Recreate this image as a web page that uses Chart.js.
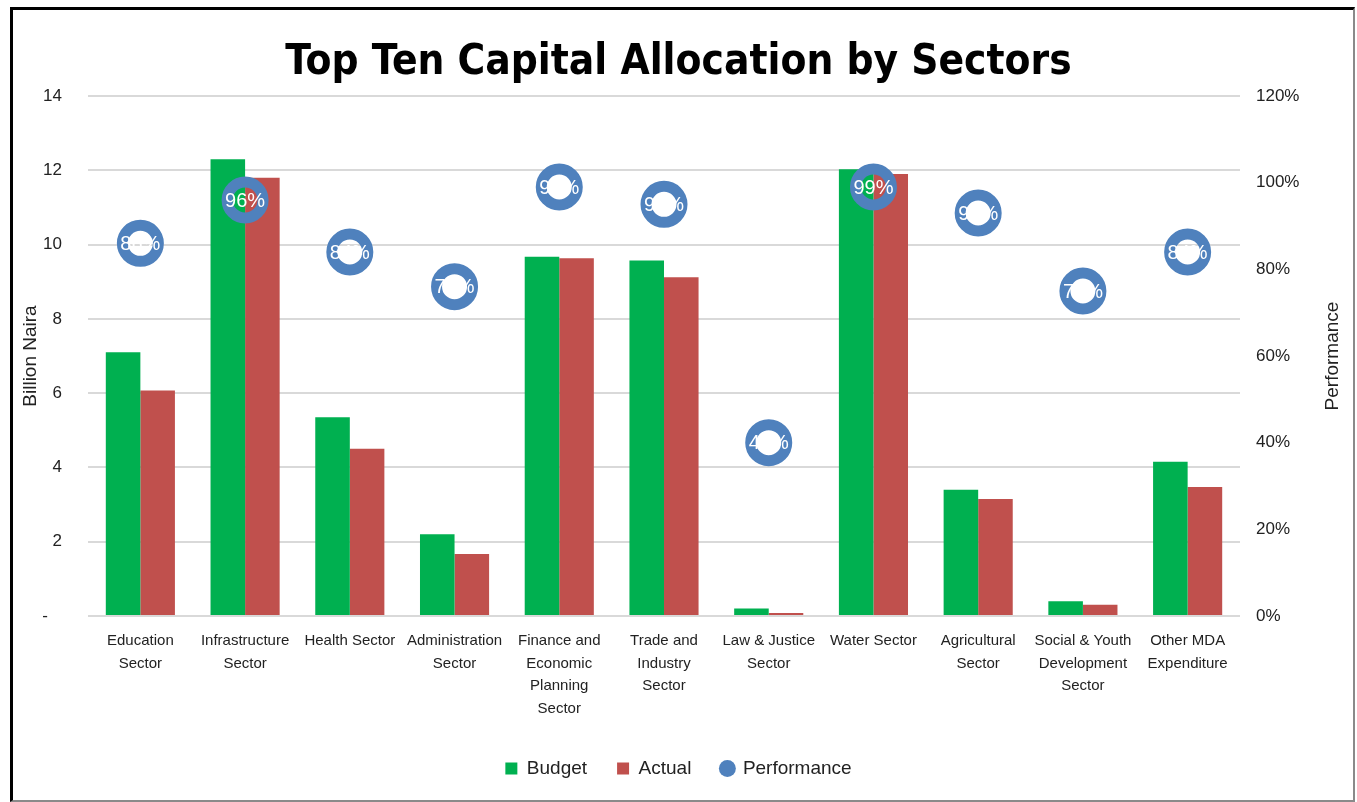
<!DOCTYPE html>
<html>
<head>
<meta charset="utf-8">
<script src="https://cdn.jsdelivr.net/npm/chart.js@4.4.0/dist/chart.umd.min.js"></script>
<style>
  html, body { margin: 0; padding: 0; background: #fff; }
  #wrap { position: relative; width: 1357px; height: 802px; }
  #frame {
    position: absolute; left: 10px; top: 7px; width: 1340px; height: 790px;
    border-left: 3px solid #000; border-top: 3px solid #000;
    border-right: 2px solid #8a8a8a; border-bottom: 2px solid #8a8a8a;
    pointer-events: none;
  }
</style>
</head>
<body>
<div id="wrap">
  <canvas id="chart" width="1357" height="802"></canvas>
  <div id="frame"></div>
</div>
<script>
const sectors = [
  ["Education", "Sector"],
  ["Infrastructure", "Sector"],
  ["Health Sector"],
  ["Administration", "Sector"],
  ["Finance and", "Economic", "Planning", "Sector"],
  ["Trade and", "Industry", "Sector"],
  ["Law & Justice", "Sector"],
  ["Water Sector"],
  ["Agricultural", "Sector"],
  ["Social & Youth", "Development", "Sector"],
  ["Other MDA", "Expenditure"],
];
const budget = [7.1, 12.3, 5.35, 2.2, 9.67, 9.57, 0.2, 12.03, 3.4, 0.4, 4.15];
const actual = [6.07, 11.8, 4.5, 1.67, 9.63, 9.12, 0.08, 11.9, 3.15, 0.3, 3.47];
const performance = [0.86, 0.96, 0.84, 0.76, 0.99, 0.95, 0.40, 0.99, 0.93, 0.75, 0.84];

const FONT = "'Liberation Sans', Arial, sans-serif";
const NARROW = "'DejaVu Sans Condensed', 'Liberation Sans', sans-serif";
const GREEN = "#00B050";
const RED = "#C0504D";
const BLUE = "#4F81BD";
const COLORS = [GREEN, RED, BLUE];

// white % labels in the middle of the performance rings + right axis title
const extras = {
  id: "extras",
  afterDatasetsDraw(chart) {
    const c = chart.ctx;
    const meta = chart.getDatasetMeta(2);
    c.save();
    c.font = "20px " + FONT;
    c.fillStyle = "#fff";
    c.textAlign = "center";
    c.textBaseline = "middle";
    meta.data.forEach((pt, i) => {
      c.fillText(Math.round(performance[i] * 100) + "%", pt.x, pt.y + 1);
    });
    c.restore();
  },
  afterDraw(chart) {
    const c = chart.ctx;
    const area = chart.chartArea;
    c.save();
    c.font = "19px " + FONT;
    c.fillStyle = "#222";
    c.textAlign = "center";
    c.textBaseline = "middle";
    c.translate(1333, (area.top + area.bottom) / 2);
    c.rotate(-Math.PI / 2);
    c.fillText("Performance", 0, 0);
    c.restore();
  },
};

new Chart(document.getElementById("chart"), {
  data: {
    labels: sectors,
    datasets: [
      {
        type: "bar",
        label: "Budget",
        data: budget,
        backgroundColor: GREEN,
        yAxisID: "y",
        order: 1,
        categoryPercentage: 0.66,
        barPercentage: 1,
      },
      {
        type: "bar",
        label: "Actual",
        data: actual,
        backgroundColor: RED,
        yAxisID: "y",
        order: 1,
        categoryPercentage: 0.66,
        barPercentage: 1,
      },
      {
        type: "line",
        label: "Performance",
        data: performance,
        yAxisID: "y1",
        showLine: false,
        order: 0,
        pointStyle: "circle",
        pointRadius: 18,
        pointBorderWidth: 11,
        pointBorderColor: BLUE,
        pointBackgroundColor: "rgba(0,0,0,0)",
        borderColor: BLUE,
        backgroundColor: BLUE,
      },
    ],
  },
  options: {
    responsive: false,
    animation: false,
    layout: { padding: { top: 0, bottom: 14, left: 0, right: 0 } },
    plugins: {
      tooltip: { enabled: false },
      title: {
        display: true,
        text: "Top Ten Capital Allocation by Sectors",
        color: "#000",
        font: { family: NARROW, size: 42, weight: "bold", lineHeight: 1.0 },
        padding: { top: 42, bottom: 12 },
      },
      legend: {
        position: "bottom",
        labels: {
          font: { family: FONT, size: 19 },
          color: "#222",
          usePointStyle: true,
          boxWidth: 12,
          boxHeight: 12,
          padding: 30,
          sort: (a, b) => a.datasetIndex - b.datasetIndex,
          generateLabels(chart) {
            const items = Chart.defaults.plugins.legend.labels.generateLabels(chart);
            items.forEach((it) => {
              const i = it.datasetIndex;
              it.pointStyle = i === 2 ? "circle" : "rect";
              it.fillStyle = COLORS[i];
              it.strokeStyle = COLORS[i];
              it.lineWidth = 0;
            });
            return items;
          },
        },
      },
    },
    scales: {
      x: {
        grid: { display: false },
        border: { display: false },
        ticks: {
          color: "#222",
          font: { family: FONT, size: 15, lineHeight: 1.5 },
          maxRotation: 0,
          autoSkip: false,
          padding: 6,
        },
        afterFit(scale) { scale.height = 113; },
      },
      y: {
        position: "left",
        min: 0,
        max: 14,
        grid: { color: "#D9D9D9", lineWidth: 2, drawTicks: false },
        border: { display: false },
        ticks: {
          stepSize: 2,
          color: "#222",
          font: { family: FONT, size: 17 },
          padding: 26,
          callback: (v) => (v === 0 ? "-   " : v),
        },
        title: {
          display: true,
          text: "Billion Naira",
          color: "#222",
          font: { family: FONT, size: 19 },
          padding: { top: 19, bottom: 0 },
        },
        afterFit(scale) { scale.width = 88; },
      },
      y1: {
        position: "right",
        min: 0,
        max: 1.2,
        grid: { display: false, drawTicks: false },
        border: { display: false },
        ticks: {
          stepSize: 0.2,
          color: "#222",
          font: { family: FONT, size: 17 },
          padding: 16,
          callback: (v) => Math.round(v * 100) + "%",
        },
        afterFit(scale) { scale.width = 117; },
      },
    },
  },
  plugins: [extras],
});
</script>
</body>
</html>
